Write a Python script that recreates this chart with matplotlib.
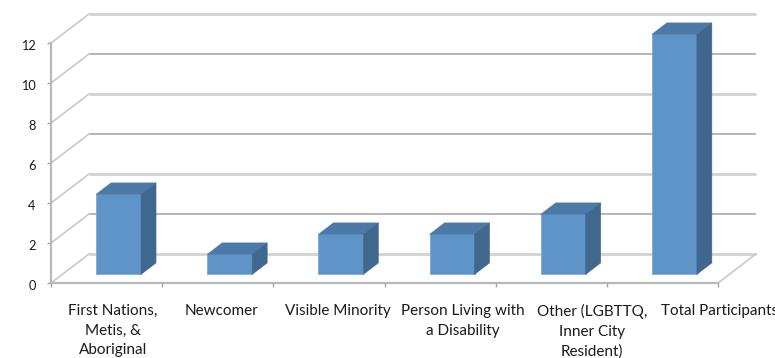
import matplotlib
matplotlib.use('Agg')
import matplotlib.pyplot as plt
from matplotlib.patches import Polygon
from matplotlib.transforms import ScaledTranslation

plt.rcParams['font.family'] = ['Lato', 'DejaVu Sans']

# Chart data
categories = ['First Nations,\nMetis, &\nAboriginal', 'Newcomer', 'Visible Minority',
              'Person Living with\na Disability', 'Other (LGBTTQ,\nInner City\nResident)',
              'Total Participants']
values = [4, 1, 2, 2, 3, 12]
y_ticks = [0, 2, 4, 6, 8, 10, 12]

W, H = 775, 358
fig = plt.figure(figsize=(W / 100, H / 100), dpi=100)
# the axes is the front plane of the fake 3d box
ax = fig.add_axes([51 / W, 1 - 283 / H, 667 / W, 240 / H])
ax.set_xlim(0, 6)
ax.set_ylim(0, 12)

# depth of the box and of the bars, in data units
depth_x = 38 / 111.17
depth_y = 29 / 20
bar_width = 45 / 111.17
bar_depth_x = 15 / 111.17
bar_depth_y = 11.5 / 20
bar_inset_x = 0.405
bar_inset_y = 0.43

# back wall gridlines, rendering of the reference alternates thick and thin
for i, v in enumerate(y_ticks):
    thick = i % 2 == 0
    ax.plot([depth_x, 6 + depth_x], [v + depth_y, v + depth_y], clip_on=False, zorder=1,
            color='#d2d2d2' if thick else '#a9a9a9', lw=2.0 if thick else 1.2,
            solid_capstyle='butt')
    # side wall
    ax.plot([0, depth_x], [v, v + depth_y], clip_on=False, zorder=1, color='#c9c9c9', lw=1.2)

# floor right edge
ax.plot([6, 6 + depth_x], [0, depth_y], clip_on=False, zorder=1, color='#c9c9c9', lw=1.2)

for i, v in enumerate(values):
    x0 = i + bar_inset_x
    x1 = x0 + bar_width
    y0 = bar_inset_y
    y1 = y0 + v
    dx, dy = bar_depth_x, bar_depth_y
    ax.add_patch(Polygon([(x0, y0), (x1, y0), (x1, y1), (x0, y1)], closed=True, clip_on=False,
                         facecolor='#5f94c9', edgecolor='#7fa9d4', lw=0.6, zorder=3))
    ax.add_patch(Polygon([(x0, y1), (x1, y1), (x1 + dx, y1 + dy), (x0 + dx, y1 + dy)], closed=True,
                         clip_on=False, facecolor='#4c79a8', edgecolor='#4c79a8', lw=0.4, zorder=3))
    ax.add_patch(Polygon([(x1, y0), (x1 + dx, y0 + dy), (x1 + dx, y1 + dy), (x1, y1)], closed=True,
                         clip_on=False, facecolor='#40678e', edgecolor='#40678e', lw=0.4, zorder=3))

for side in ['top', 'right']:
    ax.spines[side].set_visible(False)
for side in ['left', 'bottom']:
    ax.spines[side].set_color('#b8b8b8')
    ax.spines[side].set_linewidth(1.6)

ax.set_yticks(y_ticks)
ax.set_xticks(range(7))
ax.set_xticklabels([])
ax.tick_params(axis='y', length=3, width=1, color='#a0a0a0', labelsize=9.2, labelcolor='#1a1a1a', pad=8)
ax.tick_params(axis='x', length=3, width=1, color='#a0a0a0')

# nudge the y labels down a little, Lato digits sit high
nudge = ScaledTranslation(0, -1.5 / 100, fig.dpi_scale_trans)
for t in ax.get_yticklabels():
    t.set_transform(t.get_transform() + nudge)

# labels are not evenly centered in the reference
label_x = [0.557, 1.53, 2.58, 3.70, 4.865, 6.018]
for x, label in zip(label_x, categories):
    ax.text(x, -1.05, label, ha='center', va='top', fontsize=11, color='#1a1a1a',
            linespacing=1.5, clip_on=False)

fig.savefig('out.png', dpi=100)
